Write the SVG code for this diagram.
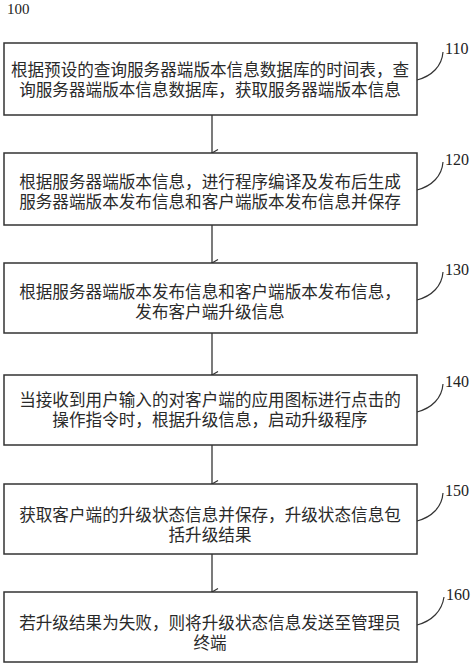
<svg xmlns="http://www.w3.org/2000/svg" width="474" height="666" viewBox="0 0 474 666">
<style>
.box{fill:#fff;stroke:#333;stroke-width:1.5}
.t{font-family:"Liberation Serif","Noto Sans CJK SC",sans-serif;font-size:16.6px;fill:#2a2a2a;text-anchor:middle}
.lbl{font-family:"Liberation Serif",serif;font-size:16px;fill:#222}
.conn{stroke:#333;stroke-width:1.3;fill:none}
.lead{stroke:#333;stroke-width:1.2;fill:none}
</style>
<defs>
<marker id="ah" markerWidth="10" markerHeight="10" refX="5" refY="8" orient="auto" markerUnits="userSpaceOnUse" viewBox="0 0 10 10">
<path d="M1.5,2 L5,8 L8.5,2" fill="none" stroke="#333" stroke-width="1.2"/>
</marker>
</defs>
<rect width="474" height="666" fill="#fff"/>
<text class="lbl" x="7" y="14" style="font-size:15px">100</text>
<g id="conns">
<line class="conn" x1="212" y1="115" x2="212" y2="153" marker-end="url(#ah)"/>
<line class="conn" x1="212" y1="225" x2="212" y2="263" marker-end="url(#ah)"/>
<line class="conn" x1="212" y1="333" x2="212" y2="375" marker-end="url(#ah)"/>
<line class="conn" x1="212" y1="445" x2="212" y2="484" marker-end="url(#ah)"/>
<line class="conn" x1="212" y1="554" x2="212" y2="592" marker-end="url(#ah)"/>
</g>
<g id="n110">
<rect class="box" x="4" y="43" width="413" height="72"/>
<text class="t" x="210" y="76">根据预设的查询服务器端版本信息数据库的时间表，查</text>
<text class="t" x="210" y="96">询服务器端版本信息数据库，获取服务器端版本信息</text>
<path class="lead" d="M417,80 C432,76 442,66 443,52"/>
<text class="lbl" x="445" y="54">110</text>
</g>
<g id="n120">
<rect class="box" x="4" y="153" width="413" height="72"/>
<text class="t" x="210" y="188">根据服务器端版本信息，进行程序编译及发布后生成</text>
<text class="t" x="210" y="208">服务器端版本发布信息和客户端版本发布信息并保存</text>
<path class="lead" d="M417,190 C432,186 442,176 443,162"/>
<text class="lbl" x="445" y="165">120</text>
</g>
<g id="n130">
<rect class="box" x="4" y="263" width="413" height="70"/>
<text class="t" x="210" y="298">根据服务器端版本发布信息和客户端版本发布信息，</text>
<text class="t" x="210" y="318">发布客户端升级信息</text>
<path class="lead" d="M417,300 C432,296 442,286 443,272"/>
<text class="lbl" x="445" y="275">130</text>
</g>
<g id="n140">
<rect class="box" x="4" y="375" width="413" height="70"/>
<text class="t" x="210" y="406">当接收到用户输入的对客户端的应用图标进行点击的</text>
<text class="t" x="210" y="426">操作指令时，根据升级信息，启动升级程序</text>
<path class="lead" d="M417,412 C432,408 442,398 443,384"/>
<text class="lbl" x="445" y="387">140</text>
</g>
<g id="n150">
<rect class="box" x="4" y="484" width="413" height="70"/>
<text class="t" x="210" y="521">获取客户端的升级状态信息并保存，升级状态信息包</text>
<text class="t" x="210" y="541">括升级结果</text>
<path class="lead" d="M417,521 C432,517 442,507 443,493"/>
<text class="lbl" x="445" y="496">150</text>
</g>
<g id="n160">
<rect class="box" x="4" y="592" width="413" height="70"/>
<text class="t" x="210" y="629">若升级结果为失败，则将升级状态信息发送至管理员</text>
<text class="t" x="210" y="649">终端</text>
<path class="lead" d="M417,625 C432,621 442,611 444,597"/>
<text class="lbl" x="446" y="600">160</text>
</g>
</svg>
